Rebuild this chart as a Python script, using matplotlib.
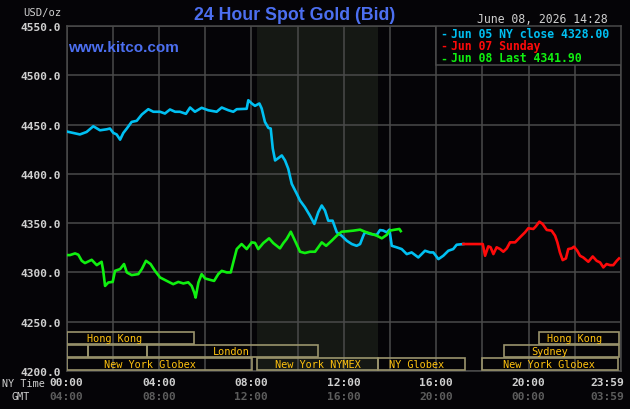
import numpy as np
import matplotlib.pyplot as plt
from matplotlib.patches import Rectangle

# hours after midnight, New York time
jun05_hours = [0.0, 0.29, 0.58, 0.87, 1.16, 1.45, 1.74, 1.88, 2.03, 2.17, 2.32, 2.46, 2.61,
               2.82, 3.04, 3.26, 3.54, 3.76, 4.05, 4.26, 4.48, 4.70, 4.91, 5.17, 5.35, 5.56,
               5.85, 6.14, 6.50, 6.72, 7.0, 7.22, 7.37, 7.8, 7.87, 8.02, 8.16, 8.35, 8.45,
               8.59, 8.74, 8.84, 8.93, 9.03, 9.17, 9.32, 9.46, 9.60, 9.75, 9.97, 10.11, 10.32,
               10.54, 10.73, 10.90, 11.05, 11.19, 11.33, 11.52, 11.70, 11.91, 12.13, 12.35,
               12.56, 12.71, 12.85, 12.92, 13.14, 13.43, 13.57, 13.71, 13.86, 13.98, 14.08,
               14.29, 14.51, 14.73, 14.94, 15.23, 15.52, 15.74, 15.88, 16.10, 16.31, 16.53,
               16.74, 16.89, 17.18]
jun05_price = [4443.0, 4441.5, 4440.0, 4442.5, 4448.3, 4444.2, 4445.2, 4446.0, 4441.5, 4440.0,
               4434.7, 4441.5, 4446.0, 4452.7, 4453.8, 4460.2, 4465.6, 4463.0, 4463.0, 4461.2,
               4465.3, 4463.0, 4463.0, 4460.9, 4467.3, 4463.0, 4467.0, 4464.5, 4463.0, 4467.3,
               4464.6, 4463.0, 4465.6, 4466.0, 4474.7, 4471.4, 4469.0, 4471.4, 4466.3, 4452.7,
               4446.6, 4446.0, 4425.6, 4413.6, 4416.0, 4418.7, 4413.6, 4405.2, 4389.9, 4379.7,
               4372.9, 4366.2, 4357.6, 4349.2, 4361.1, 4367.9, 4362.8, 4352.5, 4352.5, 4340.7,
               4337.3, 4332.2, 4328.8, 4327.0, 4328.8, 4337.3, 4340.7, 4339.0, 4338.0, 4343.0,
               4342.5, 4340.7, 4343.4, 4327.0, 4325.5, 4323.7, 4318.6, 4320.3, 4315.2, 4322.0,
               4320.3, 4320.3, 4313.5, 4316.9, 4322.0, 4323.7, 4328.1, 4328.8]

jun07_hours = [17.18, 18.02, 18.12, 18.26, 18.36, 18.48, 18.62, 18.77, 18.91, 19.06, 19.20,
               19.42, 19.63, 19.85, 19.99, 20.21, 20.32, 20.47, 20.61, 20.79, 21.0, 21.15,
               21.25, 21.36, 21.48, 21.62, 21.72, 21.87, 21.97, 22.11, 22.23, 22.37, 22.59,
               22.78, 22.95, 23.10, 23.24, 23.38, 23.53, 23.67, 23.82, 23.92]
jun07_price = [4328.8, 4328.8, 4316.9, 4326.5, 4325.5, 4318.6, 4325.5, 4323.7, 4321.0, 4324.4,
               4330.5, 4330.5, 4335.6, 4340.7, 4344.8, 4344.1, 4346.8, 4351.5, 4349.2, 4343.1,
               4342.4, 4337.3, 4330.5, 4320.3, 4312.5, 4314.2, 4323.7, 4324.4, 4326.1, 4322.0,
               4316.9, 4315.2, 4310.8, 4316.2, 4311.8, 4310.1, 4305.1, 4308.5, 4307.4, 4307.4,
               4311.8, 4314.2]

jun08_hours = [0.0, 0.15, 0.37, 0.51, 0.66, 0.80, 1.09, 1.31, 1.52, 1.59, 1.67, 1.81, 2.0,
               2.10, 2.32, 2.49, 2.61, 2.82, 3.11, 3.26, 3.44, 3.64, 3.83, 4.05, 4.34, 4.62,
               4.84, 5.06, 5.27, 5.42, 5.53, 5.59, 5.71, 5.85, 6.0, 6.21, 6.39, 6.57, 6.72,
               6.94, 7.11, 7.22, 7.37, 7.58, 7.8, 8.02, 8.16, 8.30, 8.52, 8.77, 8.95, 9.24,
               9.39, 9.53, 9.71, 9.89, 10.11, 10.32, 10.54, 10.76, 10.90, 11.05, 11.24, 11.48,
               11.70, 11.91, 12.13, 12.42, 12.71, 12.92, 13.14, 13.43, 13.65, 13.86, 14.0,
               14.15, 14.41, 14.47]
jun08_price = [4317.6, 4317.6, 4319.3, 4318.0, 4311.8, 4309.5, 4312.8, 4307.4, 4310.8, 4301.6,
               4286.3, 4289.8, 4290.4, 4301.6, 4303.4, 4308.5, 4300.0, 4297.3, 4298.3, 4303.4,
               4311.8, 4308.5, 4301.6, 4294.9, 4291.4, 4288.1, 4290.4, 4288.8, 4290.0, 4286.3,
               4279.6, 4274.5, 4289.8, 4298.3, 4293.9, 4292.5, 4291.4, 4298.3, 4301.6, 4300.0,
               4300.0, 4310.2, 4323.7, 4328.8, 4323.7, 4330.5, 4330.0, 4323.7, 4329.8, 4334.6,
               4329.8, 4324.4, 4329.8, 4333.9, 4341.3, 4332.2, 4321.0, 4319.7, 4321.0, 4321.0,
               4325.5, 4330.5, 4327.0, 4332.2, 4337.3, 4341.3, 4341.7, 4342.4, 4343.4, 4341.3,
               4339.6, 4337.3, 4334.6, 4338.0, 4342.4, 4343.1, 4344.1, 4341.9]

legend_labels = ["Jun 05 NY close 4328.00", "Jun 07 Sunday", "Jun 08 Last 4341.90"]
ny_ticks = ["00:00", "04:00", "08:00", "12:00", "16:00", "20:00", "23:59"]
gmt_ticks = ["04:00", "08:00", "12:00", "16:00", "20:00", "00:00", "03:59"]
tick_hours = [0, 4, 8, 12, 16, 20, 23.4]

# market sessions: row, start, end, label, label centre
sess_row = [0, 0, 1, 1, 1, 1, 2, 2, 2, 2]
sess_start = [0.0, 20.45, 0.0, 0.95, 3.48, 18.92, 0.0, 8.23, 13.48, 17.97]
sess_end = [5.5, 23.92, 0.95, 3.48, 10.9, 23.92, 8.02, 13.48, 17.27, 23.87]
sess_label = ["Hong Kong", "Hong Kong", "", "", "London", "Sydney",
              "New York Globex", "New York NYMEX", "NY Globex", "New York Globex"]
sess_text_h = [2.1, 22.0, 0, 0, 7.12, 20.9, 3.63, 10.87, 15.14, 20.9]

BG = "#050407"
SHADE = "#151814"
GRID = "#4a4a4a"
TXT = "#cfcfcf"
KITCO = "#4c6ff0"
BLUE = "#00c0f2"
RED = "#ff0a0a"
GREEN = "#10f010"
BOX = "#9a946c"
AMBER = "#ffc20e"
MONO = "DejaVu Sans Mono"

W, H = 630, 410
fig = plt.figure(figsize=(W / 100, H / 100), dpi=100, facecolor=BG)
ax = fig.add_axes([66.5 / W, 1 - 372 / H, 554.4 / W, 345 / H], facecolor=BG)
ax.set_xlim(0, 24)
ax.set_ylim(4200, 4550)


def px(x, y):
    return x / W, 1 - y / H


ax.axvspan(8.23, 13.48, color=SHADE, zorder=0.2, lw=0)
ax.set_axisbelow(True)
ax.set_xticks(np.arange(0, 25, 2))
ax.set_xticklabels([])
yt = np.arange(4200, 4551, 50)
ax.set_yticks(yt)
ax.set_yticklabels([f"{v:.1f}" for v in yt], fontfamily=MONO, fontweight="bold",
                   fontsize=8.1, color=TXT)
ax.tick_params(length=0, pad=4)
ax.grid(color=GRID, lw=1.1)
for s in ax.spines.values():
    s.set_color(GRID)
    s.set_linewidth(1.1)

ax.plot(jun05_hours, jun05_price, color=BLUE, lw=1.9, zorder=4)
ax.plot(jun07_hours, jun07_price, color=RED, lw=1.9, zorder=4)
ax.plot(jun08_hours, jun08_price, color=GREEN, lw=1.9, zorder=5)

# session boxes along the bottom
row_bottom = [4227.6, 4214.3, 4200.6]
row_h = 12.4
for r, a, b, lab, th in zip(sess_row, sess_start, sess_end, sess_label, sess_text_h):
    ax.add_patch(Rectangle((a, row_bottom[r]), b - a, row_h, fill=False,
                           edgecolor=BOX, lw=1.2, zorder=3))
    if lab:
        ax.text(th, row_bottom[r] + row_h / 2, lab, ha="center", va="center",
                fontsize=7.4, fontfamily=MONO, color=AMBER, zorder=6)

# legend box in the top right corner
ax.add_patch(Rectangle((16, 4510), 8, 40, facecolor=BG, edgecolor=GRID, lw=1.1, zorder=7))
for i, (lab, c) in enumerate(zip(legend_labels, [BLUE, RED, GREEN])):
    y = 34 + i * 12.5
    fig.text(*px(440.5, y), "-", color=c, fontsize=8.3, fontfamily=MONO,
             fontweight="bold", va="center", zorder=8)
    fig.text(*px(451, y), lab, color=c, fontsize=8.3, fontfamily=MONO,
             fontweight="bold", va="center", zorder=8)

fig.text(*px(294.5, 16), "24 Hour Spot Gold (Bid)", color=KITCO, fontsize=12.8,
         fontfamily="Liberation Sans", fontweight="bold", ha="center", va="center")
ax.text(0.003, 0.938, "www.kitco.com", transform=ax.transAxes, color=KITCO, fontsize=11,
        fontfamily="Liberation Sans", fontweight="bold", ha="left", va="center", zorder=6)
fig.text(*px(608, 19.5), "June 08, 2026 14:28", color=TXT, fontsize=8.3, fontfamily=MONO,
         ha="right", va="center")
fig.text(*px(61, 13), "USD/oz", color=TXT, fontsize=7.6, fontfamily=MONO,
         ha="right", va="center")

fig.text(*px(2, 384), "NY Time", color=TXT, fontsize=7.3, fontfamily=MONO, va="center")
fig.text(*px(11, 397), "GMT", color=TXT, fontsize=7.3, fontfamily=MONO, va="center")
for h, ny, gmt in zip(tick_hours, ny_ticks, gmt_ticks):
    x = 66.5 + h * 23.1
    fig.text(*px(x, 383), ny, color=TXT, fontsize=8.1, fontfamily=MONO, fontweight="bold",
             ha="center", va="center")
    fig.text(*px(x, 397), gmt, color="#5c5c5c", fontsize=8.1, fontfamily=MONO,
             fontweight="bold", ha="center", va="center")

fig.savefig("out.png", dpi=100, facecolor=BG)
